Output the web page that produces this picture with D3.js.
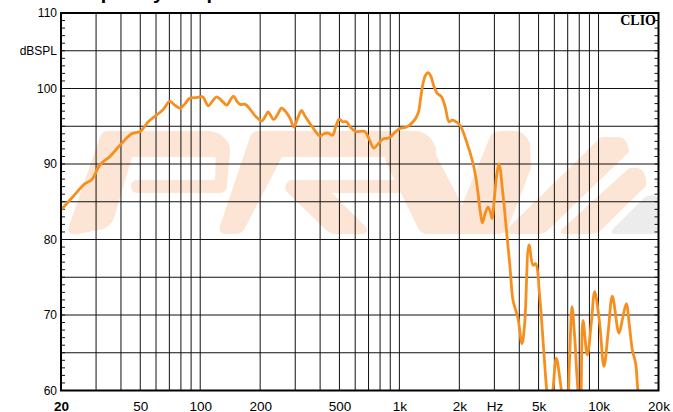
<!DOCTYPE html>
<html><head><meta charset="utf-8">
<script src="https://cdn.jsdelivr.net/npm/d3@7"></script>
<style>html,body{margin:0;padding:0;background:#fff;}svg{display:block;}</style>
</head><body>
<svg id="chart" width="673" height="412"></svg>
<script>
// ---- data ----
const freqs = [20,23,26.4,28.5,31.4,35.2,40.2,45.3,50,54.8,59.2,65.1,70.3,74.5,79.3,84,88.5,95.9,102.7,109.8,115,121,128,135.9,141,147,153,158.9,168.4,178.5,190,204,212,219,234,245,256,271,283,295,308,322.8,335,355,375,399,418,438.6,461.5,480,498,520,542.8,570,604,670,705,744,785,828,895,950,1004,1086,1172,1241,1280,1315,1355,1394,1440,1490,1546,1626,1700,1776,1840,1897,2009,2171,2344,2420,2483,2550,2612,2700,2787,2850,2918,3000,3080,3164,3314,3446,3580,3718,3850,3940,4127,4258,4475,4687,4834,5062,5300,5471,5684,5900,6138,6400,6550,6919,7150,7357,7588,7883,8100,8352,8781,9200,9561,10127,10645,11200,11729,12657,13200,13787,14300,14776,15350,15760,16500,18000,20000];
const spl = [83.9,85.7,87.4,87.9,89.9,91.0,92.7,94.0,94.3,95.6,96.3,97.2,98.3,97.8,97.4,98.0,98.7,98.8,98.9,97.7,98.3,98.9,98.4,97.8,98.4,99.0,98.3,97.9,97.9,97.2,96.3,95.7,96.3,96.9,95.9,96.6,97.4,96.8,96.0,94.9,96.0,97.1,96.4,95.4,94.5,93.7,94.0,94.1,93.8,95.0,95.9,95.6,95.6,94.8,94.3,94.3,93.3,92.1,92.7,93.3,93.5,94.2,94.7,94.9,95.6,96.7,98.8,100.7,101.8,102.1,101.6,100.3,99.4,98.9,97.5,95.6,95.8,95.7,95.2,93.0,90.1,88.2,86.1,83.6,82.2,83.5,84.3,83.8,82.8,85.5,88.5,90.0,85.9,81.3,76.8,72.0,70.5,69.6,66.2,68.9,79.3,76.6,76.8,72.5,65.5,60.5,56,60,64.3,61.5,59.5,56.5,64,71.1,67.1,60,57.5,69.3,64.7,69,73.1,68.9,63.2,68,72.5,67.6,69.5,71.5,68.5,65.4,63.6,60,56,53,51];

const xGridValues = [20,30,40,50,60,70,80,90,100,200,300,400,500,600,700,800,900,1000,2000,3000,4000,5000,6000,7000,8000,9000,10000,20000];
const xTickValues = [20,50,100,200,500,1000,2000,3000,5000,10000,20000];
const xTickLabels = ["20","50","100","200","500","1k","2k","Hz","5k","10k","20k"];
const yGridValues = [60,65,70,75,80,85,90,95,100,105,110];
const yTickValues = [60,70,80,90,100,105,110];
const yTickLabels = ["60","70","80","90","100","dBSPL","110"];
const titleText = "Frequency Response";
const brandText = "CLIO";

// ---- layout ----
const L = 61, R = 658.5, T = 13, B = 390.5;
const svg = d3.select("#chart");
const x = d3.scaleLog().domain([20,20000]).range([L,R]);
const y = d3.scaleLinear().domain([60,110]).range([B,T]);

// title (cut off by top edge)
svg.append("text").attr("x",63).attr("y",-1)
  .attr("font-family","Liberation Sans, Arial, sans-serif").attr("font-weight","bold")
  .attr("font-size",20).attr("fill","#000").text(titleText);

svg.append("clipPath").attr("id","plotclip").append("rect")
  .attr("x",L).attr("y",T).attr("width",R-L).attr("height",B-T);

const plot = svg.append("g").attr("clip-path","url(#plotclip)");

// watermark logo
const wm = plot.append("g");
const orange = "#fde5d5", grey = "#ececec";
const logoPaths = [
 // P top bar + stem
 "M108,131 L208,131 Q220,131 228,142 L230,148 L229,157 L132,157 L114,218 Q111,226 103,229 L78,234 Q66,236 69,226 L100,137 Q102,131 108,131 Z",
 // P bowl right side + lower bar
 "M216,150 L230,150 L227,187 Q226,193 219,193 L138,193 Q131,193 131,186.5 Q131,180 138,180 L215,180 Z",
 // R top bar + stem
 "M258,131 L415,131 Q425,131 432,140 L436,148 L436,157 L282,157 L245,228 Q242,234 235,234 L226,234 Q218,234 220,226 L250,137 Q252,131 258,131 Z",
 // R middle bar + leg
 "M290,180 L402,180 L406,193 L332,193 L366,227 Q370,234 361,234 L336,234 Q329,234 325,229 L287,192 Q282,186 290,180 Z",
 // V
 "M388,155 L436,155 L462,205 L490,137 Q493,131 500,131 L515,131 Q524,131 530,143 L531,168 L508,228 Q505,234 497,234 L428,234 Q421,234 418,228 L386,162 Q384,155 388,155 Z",
 // stripe 2
 "M603,137 L617,137 Q626,137 628,146 L629,152 L548,230 Q545,234 538,234 L512,234 Q505,234 508,228 L597,141 Q600,137 603,137 Z",
 // stripe 3
 "M632,168 L638,168 Q645,170 646,180 L646,186 L600,231 Q597,234 590,234 L565,234 Q558,234 562,229 L626,171 Q628,168 632,168 Z"
];
logoPaths.forEach(d => wm.append("path").attr("d",d).attr("fill",orange));
wm.append("path").attr("d","M645,197 Q650,194 656,196 L660,200 L660,234 L616,234 Q609,234 613,229 Z").attr("fill",grey);

// grid
plot.append("g").selectAll("line").data(xGridValues).join("line")
  .attr("x1",d=>x(d)).attr("x2",d=>x(d)).attr("y1",T).attr("y2",B)
  .attr("stroke","#111").attr("stroke-width",1);
plot.append("g").selectAll("line").data(yGridValues).join("line")
  .attr("x1",L).attr("x2",R).attr("y1",d=>y(d)).attr("y2",d=>y(d))
  .attr("stroke","#111").attr("stroke-width",1);

// minor ticks every dB, left and right
const minor = d3.range(60,111,1);
plot.append("g").selectAll("line").data(minor).join("line")
  .attr("x1",L).attr("x2",L+4).attr("y1",d=>y(d)).attr("y2",d=>y(d))
  .attr("stroke","#111").attr("stroke-width",1);
plot.append("g").selectAll("line").data(minor).join("line")
  .attr("x1",R-4).attr("x2",R).attr("y1",d=>y(d)).attr("y2",d=>y(d))
  .attr("stroke","#111").attr("stroke-width",1);

// curve
const pts = freqs.map((f,i)=>[f,spl[i]]);
const line = d3.line().x(d=>x(d[0])).y(d=>y(d[1])).curve(d3.curveCatmullRom.alpha(0.5));
plot.append("path").datum(pts).attr("d",line)
  .attr("fill","none").attr("stroke","#f78f1f").attr("stroke-width",2.8)
  .attr("stroke-linejoin","round");

// frame
svg.append("rect").attr("x",L).attr("y",T).attr("width",R-L).attr("height",B-T)
  .attr("fill","none").attr("stroke","#000").attr("stroke-width",2);

// axis labels
const xAxis = d3.axisBottom(x).tickValues(xTickValues)
  .tickFormat((d,i)=>xTickLabels[i]).tickSize(0).tickPadding(0);
const gx = svg.append("g").attr("transform",`translate(0,${B})`).call(xAxis);
gx.select(".domain").remove();
gx.selectAll("text").attr("dy",null).attr("y",20)
  .attr("font-family","Liberation Sans, Arial, sans-serif").attr("font-size",13.5).attr("fill","#000")
  .attr("font-weight",(d,i)=>i===0?"bold":"normal");

const yAxis = d3.axisLeft(y).tickValues(yTickValues)
  .tickFormat((d,i)=>yTickLabels[i]).tickSize(0).tickPadding(4);
const gy = svg.append("g").attr("transform",`translate(${L},0)`).call(yAxis);
gy.select(".domain").remove();
gy.selectAll("text").attr("font-family","Liberation Sans, Arial, sans-serif")
  .attr("font-size",12).attr("fill","#000");

// brand
svg.append("text").attr("x",656).attr("y",25).attr("text-anchor","end")
  .attr("font-family","Liberation Serif, Times New Roman, serif").attr("font-weight","bold")
  .attr("font-size",14).attr("fill","#000").text(brandText);
</script>
</body></html>
